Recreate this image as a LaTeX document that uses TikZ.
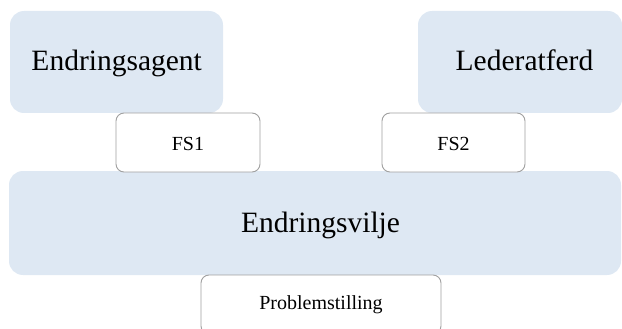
\documentclass[tikz,border=0pt]{standalone}
\usepackage{fontspec}
\setmainfont{Liberation Serif}
\definecolor{boxblue}{RGB}{222,232,243}
\definecolor{boxgray}{RGB}{160,160,160}
\tikzset{
  bluebox/.style={fill=boxblue, draw=none, rounded corners=14pt, inner sep=0pt},
  whitebox/.style={fill=white, draw=boxgray, line width=0.9pt, rounded corners=8pt, inner sep=0pt},
  bigtext/.style={font=\fontsize{29.5}{32}\selectfont, anchor=base, inner sep=0pt},
  smalltext/.style={font=\fontsize{20}{23}\selectfont, anchor=base, inner sep=0pt}
}
\begin{document}
\begin{tikzpicture}[x=1pt,y=-1pt]
\useasboundingbox (0,0) rectangle (622,329);
\clip (0,0) rectangle (622,329);
% blue boxes
\node[bluebox, minimum width=213pt, minimum height=102pt] (ea) at (116.5,62) {};
\node[bluebox, minimum width=204pt, minimum height=102pt] (la) at (520,62) {};
\node[bluebox, minimum width=612pt, minimum height=104pt] (ev) at (315,223) {};
% white boxes
\node[whitebox, minimum width=144pt, minimum height=59pt] (fs1) at (188,142.5) {};
\node[whitebox, minimum width=143pt, minimum height=59pt] (fs2) at (453.5,142.5) {};
\node[whitebox, minimum width=240pt, minimum height=59pt] (ps) at (321,304.5) {};
% texts
\node[bigtext] (eat) at (116.7,71) {Endringsagent};
\node[bigtext] (lat) at (524.5,71) {Lederatferd};
\node[bigtext] (evt) at (320.5,232) {Endringsvilje};
\node[smalltext] (fs1t) at (188,150) {FS1};
\node[smalltext] (fs2t) at (453.5,150) {FS2};
\node[smalltext] (pst) at (321,309) {Problemstilling};
\end{tikzpicture}
\end{document}
